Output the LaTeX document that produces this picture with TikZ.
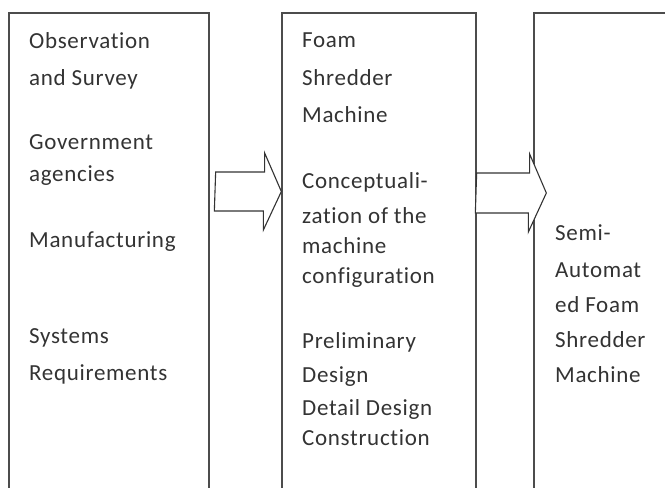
\documentclass[tikz,border=0pt]{standalone}
\usepackage{fontspec}
\setmainfont[LetterSpace=3, Ligatures=NoCommon]{Carlito}
\usetikzlibrary{calc}

\begin{document}
\begin{tikzpicture}[x=1pt, y=-1pt]
    \tikzset{
      box/.style={
        draw=black!70, line width=1.3pt, rectangle, minimum height=487pt,
      },
      flow/.style={
        draw=black!80, line width=1.1pt, fill=white, line join=miter,
      },
      entry/.style={
        anchor=base west, inner sep=0pt, text=black!80,
        font=\fontsize{23}{27}\selectfont,
      }
    }
    \useasboundingbox (0,0) rectangle (665,488);
    \clip (0,0) rectangle (665,488);
    % boxes
    \node (survey) [box, minimum width=200pt] at (109,256.5) {};
    \node (design) [box, minimum width=194pt] at (379,256.5) {};
    \node (product) [box, minimum width=170pt] at (619,256.5) {};
    % texts
    \foreach[count=\i] \y\txt in {48/Observation, 85/and Survey, 149/Government,
        181/agencies, 247/Manufacturing, 343/Systems, 380/Requirements} {
      \node (survey\i) [entry] at (29,\y) {\txt};
    }
    \foreach[count=\i] \y\txt in {47/Foam, 85/Shredder, 122/Machine, 188/Conceptuali-,
        223/zation of the, 253/machine, 283/configuration, 348/Preliminary,
        382/Design, 415/Detail Design, 445/Construction} {
      \node (design\i) [entry] at (302,\y) {\txt};
    }
    \foreach[count=\i] \y\txt in {240/Semi-, 277/Automat, 312/ed Foam,
        347/Shredder, 382/Machine} {
      \node (product\i) [entry] at (555,\y) {\txt};
    }
    % arrows
    \coordinate (tip1) at (design.west |- 0,191.5);
    \draw[flow] ($(survey.east |- tip1)+(6,-19.5)$) -- ++(49,0) -- ++(0,-19)
      -- (tip1) -- ++(-18,38.5) -- ++(0,-19) -- ++(-49,0) -- cycle;
    \coordinate (tip2) at ($(product.west |- 0,193)+(13,0)$);
    \draw[flow] ($(design.east |- tip2)+(0,-20)$) -- ++(53,0) -- ++(0,-19)
      -- (tip2) -- ++(-18,39) -- ++(0,-19) -- ++(-53,0) -- cycle;
\end{tikzpicture}
\end{document}
